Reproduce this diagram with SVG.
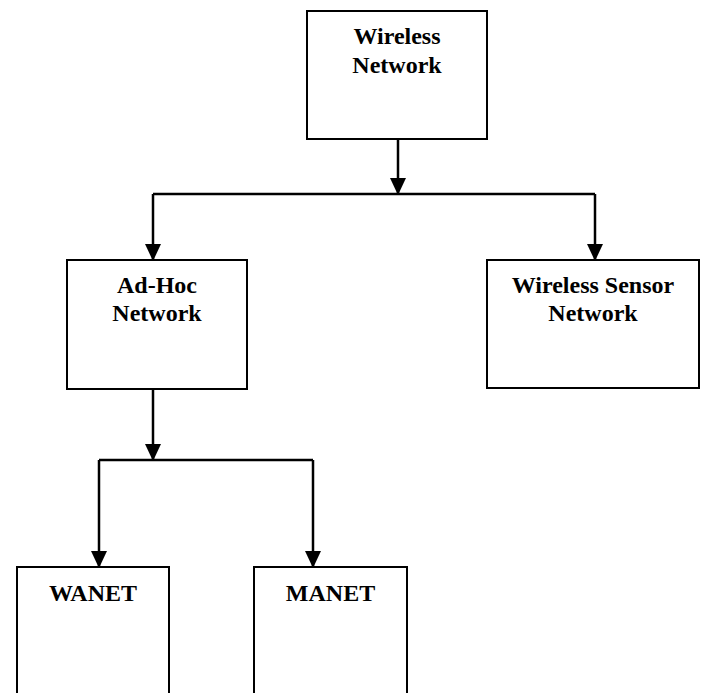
<svg xmlns="http://www.w3.org/2000/svg" width="705" height="693" viewBox="0 0 705 693">
<style>
.box{fill:#fff;stroke:#000;stroke-width:2}
.lbl{font-family:"Liberation Serif","Times New Roman",serif;font-weight:bold;font-size:24px;fill:#000;text-anchor:middle}
.conn{fill:none;stroke:#000;stroke-width:2.5}
</style>
<defs>
<marker id="arr" markerUnits="userSpaceOnUse" markerWidth="17" markerHeight="16" refX="16" refY="8" orient="auto">
<path d="M0,0 L17,8 L0,16 Z" fill="#000"/>
</marker>
</defs>
<rect width="705" height="693" fill="#fff"/>
<g id="connectors">
<line class="conn" x1="398" y1="140" x2="398" y2="194" marker-end="url(#arr)"/>
<polyline class="conn" points="153,194 595,194"/>
<line class="conn" x1="153" y1="194" x2="153" y2="260" marker-end="url(#arr)"/>
<line class="conn" x1="595" y1="194" x2="595" y2="260" marker-end="url(#arr)"/>
<line class="conn" x1="153" y1="389" x2="153" y2="460" marker-end="url(#arr)"/>
<polyline class="conn" points="99,460 313,460"/>
<line class="conn" x1="99" y1="460" x2="99" y2="567" marker-end="url(#arr)"/>
<line class="conn" x1="313" y1="460" x2="313" y2="567" marker-end="url(#arr)"/>
</g>
<g id="wireless-network">
<rect class="box" x="307" y="11" width="180" height="128"/>
<text class="lbl" x="397" y="44">Wireless</text>
<text class="lbl" x="397" y="73">Network</text>
</g>
<g id="ad-hoc-network">
<rect class="box" x="67" y="260" width="180" height="129"/>
<text class="lbl" x="157" y="293">Ad-Hoc</text>
<text class="lbl" x="157" y="321">Network</text>
</g>
<g id="wireless-sensor-network">
<rect class="box" x="487" y="260" width="212" height="128"/>
<text class="lbl" x="593" y="293">Wireless Sensor</text>
<text class="lbl" x="593" y="321">Network</text>
</g>
<g id="wanet">
<rect class="box" x="17" y="567" width="152" height="130"/>
<text class="lbl" x="93" y="601">WANET</text>
</g>
<g id="manet">
<rect class="box" x="254" y="567" width="153" height="130"/>
<text class="lbl" x="330.5" y="601">MANET</text>
</g>
</svg>
